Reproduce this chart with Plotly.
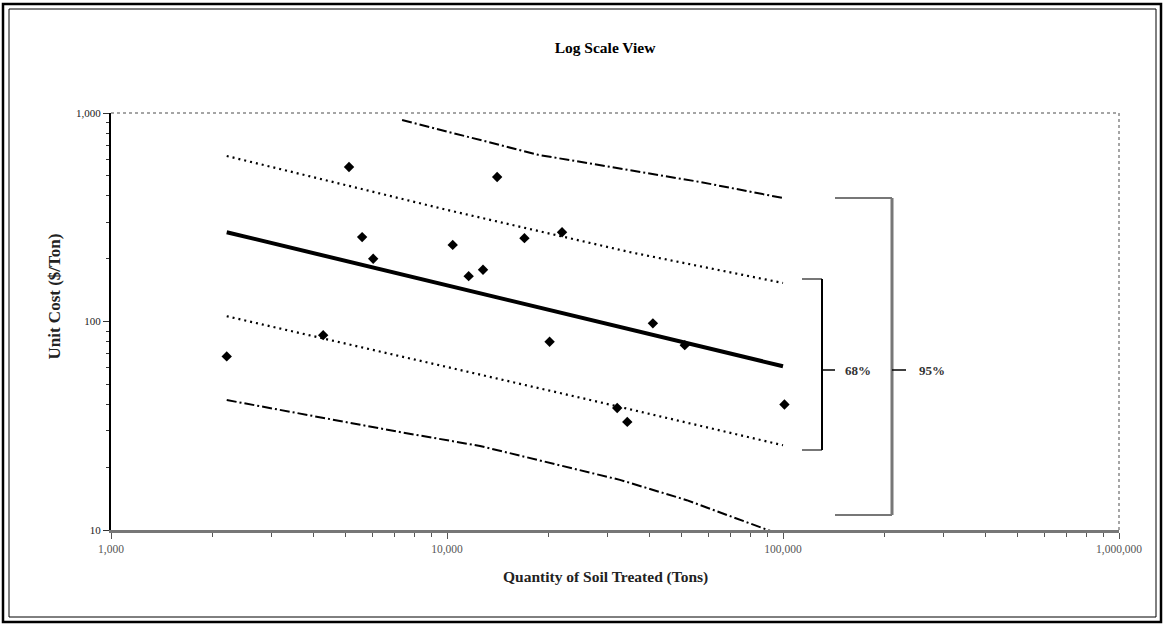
import plotly.graph_objects as go

# Observed projects: quantity treated (tons) and unit cost ($/ton)
qty = [2210, 4280, 5110, 5590, 6030, 10400, 11600, 12800, 14100, 17000,
       22000, 20200, 32100, 34400, 41000, 51000, 101000]
cost = [68, 86, 551, 254, 200, 233, 165, 177, 493, 251,
        268, 80, 38.5, 33, 98, 77, 40]

# Regression line
fit_x = [2210, 100000]
fit_y = [268, 61]

# 68% band
up68_x = [2210, 10000, 35100, 100000]
up68_y = [622, 343, 215, 153]
lo68_x = [2210, 28500, 100000]
lo68_y = [106, 41, 25.5]

# 95% band
up95_x = [7350, 18700, 56600, 100000]
up95_y = [925, 630, 467, 391]
lo95_x = [2210, 7240, 12540, 32700, 51700, 78100, 100000]
lo95_y = [42, 29.5, 25.3, 17.4, 13.9, 10.9, 9.4]

x_ticks = [1000, 10000, 100000, 1000000]
x_ticktext = ["1,000", "10,000", "100,000", "1,000,000"]
y_ticks = [10, 100, 1000]
y_ticktext = ["10", "100", "1,000"]

SERIF = "Liberation Serif"

fig = go.Figure()

band_dash95 = "10px,3px,2px,3px"
band_dot68 = "2px,4px"
fig.add_trace(go.Scatter(x=up95_x, y=up95_y, mode="lines",
                         line=dict(color="black", width=2, dash=band_dash95)))
fig.add_trace(go.Scatter(x=lo95_x, y=lo95_y, mode="lines",
                         line=dict(color="black", width=2, dash=band_dash95)))
fig.add_trace(go.Scatter(x=up68_x, y=up68_y, mode="lines",
                         line=dict(color="black", width=2.2, dash=band_dot68)))
fig.add_trace(go.Scatter(x=lo68_x, y=lo68_y, mode="lines",
                         line=dict(color="black", width=2.2, dash=band_dot68)))
fig.add_trace(go.Scatter(x=fit_x, y=fit_y, mode="lines",
                         line=dict(color="black", width=4)))
fig.add_trace(go.Scatter(x=qty, y=cost, mode="markers",
                         marker=dict(symbol="diamond", size=8, color="black")))

x_minor = [m * 10 ** e for e in (3, 4, 5) for m in range(2, 10)]
y_minor = [m * 10 ** e for e in (1, 2) for m in range(2, 10)]

fig.update_xaxes(type="log", range=[3, 6], tickvals=x_ticks, ticktext=x_ticktext,
                 showgrid=False, zeroline=False, showline=True,
                 linecolor="#777777", linewidth=3,
                 ticks="outside", ticklen=6, tickcolor="#555555", tickwidth=1,
                 tickfont=dict(family=SERIF, size=11.5, color="#555555"),
                 minor=dict(tickvals=x_minor, ticks="outside", ticklen=4,
                            tickcolor="#555555", showgrid=False))
fig.update_yaxes(type="log", range=[1, 3], tickvals=y_ticks, ticktext=y_ticktext,
                 showgrid=False, zeroline=False, showline=True,
                 linecolor="black", linewidth=2,
                 ticks="outside", ticklen=6, tickcolor="#333333", tickwidth=1,
                 tickfont=dict(family=SERIF, size=11, color="#222222"),
                 minor=dict(tickvals=y_minor, ticks="outside", ticklen=3,
                            tickcolor="#333333", showgrid=False))


# helpers: pixel position -> paper coordinates (plot area 111..1119 x, 113..530 y)
def px_x(p):
    return (p - 111) / 1008.0


def px_y(p):
    return (530 - p) / 417.0


shapes = []
# plot-area top and right border
shapes.append(dict(type="line", xref="paper", yref="paper", x0=0, x1=1, y0=1, y1=1,
                   line=dict(color="#888888", width=1.5, dash="dot")))
shapes.append(dict(type="line", xref="paper", yref="paper", x0=1, x1=1, y0=0, y1=1,
                   line=dict(color="#888888", width=1.5, dash="dot")))

# 68% bracket
b68 = dict(x0=px_x(802), x1=px_x(822), xt=px_x(835),
           top=px_y(279), bot=px_y(450), mid=px_y(370))
shapes += [
    dict(type="line", xref="paper", yref="paper", x0=b68["x0"], x1=b68["x1"],
         y0=b68["top"], y1=b68["top"], line=dict(color="#777777", width=2)),
    dict(type="line", xref="paper", yref="paper", x0=b68["x0"], x1=b68["x1"],
         y0=b68["bot"], y1=b68["bot"], line=dict(color="#777777", width=2)),
    dict(type="line", xref="paper", yref="paper", x0=b68["x1"], x1=b68["x1"],
         y0=b68["bot"], y1=b68["top"], line=dict(color="black", width=2)),
    dict(type="line", xref="paper", yref="paper", x0=b68["x1"], x1=b68["xt"],
         y0=b68["mid"], y1=b68["mid"], line=dict(color="black", width=1.5)),
]
# 95% bracket
b95 = dict(x0=px_x(835), x1=px_x(892), xt=px_x(906),
           top=px_y(198), bot=px_y(515), mid=px_y(370))
shapes += [
    dict(type="line", xref="paper", yref="paper", x0=b95["x0"], x1=b95["x1"],
         y0=b95["top"], y1=b95["top"], line=dict(color="#777777", width=2)),
    dict(type="line", xref="paper", yref="paper", x0=b95["x0"], x1=b95["x1"],
         y0=b95["bot"], y1=b95["bot"], line=dict(color="#777777", width=2)),
    dict(type="line", xref="paper", yref="paper", x0=b95["x1"], x1=b95["x1"],
         y0=b95["bot"], y1=b95["top"], line=dict(color="#777777", width=3)),
    dict(type="line", xref="paper", yref="paper", x0=b95["x1"], x1=b95["xt"],
         y0=b95["mid"], y1=b95["mid"], line=dict(color="black", width=1.5)),
]

# outer double frame
shapes.append(dict(type="rect", xref="paper", yref="paper",
                   x0=px_x(3), x1=px_x(1161), y0=px_y(4), y1=px_y(622),
                   line=dict(color="black", width=2.5)))
shapes.append(dict(type="rect", xref="paper", yref="paper",
                   x0=px_x(9), x1=px_x(1156), y0=px_y(9), y1=px_y(617),
                   line=dict(color="black", width=1)))

annotations = [
    dict(text="<b>68%</b>", xref="paper", yref="paper", x=px_x(843), y=b68["mid"],
         xanchor="left", showarrow=False,
         font=dict(family=SERIF, size=13, color="#333333")),
    dict(text="<b>95%</b>", xref="paper", yref="paper", x=px_x(917), y=b95["mid"],
         xanchor="left", showarrow=False,
         font=dict(family=SERIF, size=13, color="#333333")),
    dict(text="<b>Quantity of Soil Treated (Tons)</b>", xref="paper", yref="paper",
         x=px_x(605), y=px_y(588), showarrow=False,
         font=dict(family=SERIF, size=15.5, color="#222222")),
    dict(text="<b>Unit Cost ($/Ton)</b>", xref="paper", yref="paper",
         x=px_x(42), y=px_y(297), textangle=-90, showarrow=False,
         font=dict(family=SERIF, size=17, color="#222222")),
]

fig.update_layout(
    width=1164, height=626,
    margin=dict(l=111, r=45, t=113, b=96),
    paper_bgcolor="white", plot_bgcolor="white",
    showlegend=False,
    title=dict(text="<b>Log Scale View</b>", x=605 / 1164, xanchor="center",
               y=1 - 48 / 626, yanchor="middle",
               font=dict(family=SERIF, size=15.5, color="black")),
    shapes=shapes,
    annotations=annotations,
)

fig.write_html("out.html")
